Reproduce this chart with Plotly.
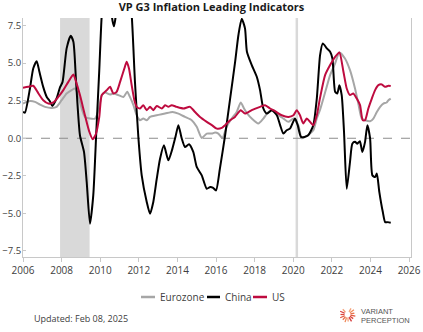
import math
import plotly.graph_objects as go

# --- China leading indicator (decimal year, value) ---
china_t = [2006.00, 2006.10, 2006.36, 2006.53, 2006.71, 2006.85, 2007.05, 2007.23, 2007.40, 2007.52,
           2007.74, 2007.92, 2008.05, 2008.26, 2008.47, 2008.61, 2008.75, 2008.95, 2009.16, 2009.30,
           2009.47, 2009.64, 2009.80, 2009.95, 2010.08, 2010.25, 2010.50, 2010.64, 2010.71, 2010.78,
           2010.95, 2011.20, 2011.50, 2011.63, 2011.80, 2011.98, 2012.15, 2012.41, 2012.58, 2012.75,
           2012.93, 2013.10, 2013.30, 2013.53, 2013.74, 2013.90, 2014.05, 2014.22, 2014.39, 2014.60,
           2014.82, 2015.00, 2015.26, 2015.52, 2015.70, 2015.85, 2016.00, 2016.20, 2016.47, 2016.73,
           2016.99, 2017.16, 2017.33, 2017.50, 2017.60, 2017.85, 2018.11, 2018.28, 2018.45, 2018.63,
           2018.89, 2019.15, 2019.32, 2019.49, 2019.66, 2019.83, 2020.09, 2020.23, 2020.40, 2020.58,
           2020.78, 2021.04, 2021.22, 2021.39, 2021.53, 2021.74, 2021.91, 2022.03, 2022.17, 2022.28,
           2022.39, 2022.51, 2022.63, 2022.77, 2022.94, 2023.06, 2023.20, 2023.32, 2023.45, 2023.58,
           2023.72, 2023.84, 2023.98, 2024.10, 2024.24, 2024.33, 2024.46, 2024.64, 2024.76, 2024.90,
           2025.05]
china_v = [1.75, 1.70, 3.31, 4.64, 5.13, 4.42, 3.40, 2.75, 2.45, 2.15,
           2.65, 3.40, 3.75, 5.98, 6.82, 6.42, 3.75, 0.20, -0.91, -2.91,
           -5.69, -3.80, 0.50, 4.50, 8.20, 10.5, 9.00, 7.80, 7.45, 7.90,
           10.0, 11.0, 9.50, 8.20, 3.75, 0.00, -2.47, -4.24, -5.02, -4.24,
           -2.69, -1.36, -0.47, -1.47, -0.69, 0.10, 0.87, 0.00, -0.58, -0.40,
           -0.91, -1.91, -2.47, -3.36, -3.24, -3.30, -3.47, -2.02, 0.20, 2.64,
           5.09, 6.87, 7.95, 7.31, 5.76, 4.87, 4.09, 3.20, 1.98, 1.64,
           1.87, 1.53, 0.87, 0.31, 0.53, 0.64, 1.31, 0.87, 0.09, 0.09,
           0.20, 0.87, 2.64, 5.53, 6.31, 5.98, 5.76, 5.31, 3.09, 2.98,
           3.53, 2.87, 0.42, -3.36, -1.58, -0.36, -0.24, -0.36, -0.20, -0.91,
           -0.24, 0.87, 0.00, -2.47, -2.58, -2.35, -3.58, -4.91, -5.58, -5.58,
           -5.62]

# --- Eurozone leading indicator ---
ez_t = [2006.00, 2006.36, 2006.62, 2006.88, 2007.14, 2007.49, 2007.74, 2008.00, 2008.26, 2008.52,
        2008.69, 2008.86, 2009.04, 2009.21, 2009.47, 2009.73, 2009.92, 2010.08, 2010.25, 2010.51,
        2010.68, 2010.94, 2011.20, 2011.40, 2011.54, 2011.72, 2011.89, 2012.06, 2012.23, 2012.41,
        2012.58, 2012.93, 2013.36, 2013.75, 2014.05, 2014.39, 2014.74, 2015.00, 2015.26, 2015.52,
        2015.78, 2015.95, 2016.12, 2016.33, 2016.55, 2016.81, 2017.07, 2017.28, 2017.45, 2017.62,
        2017.85, 2018.19, 2018.45, 2018.71, 2018.97, 2019.23, 2019.49, 2019.75, 2020.01, 2020.26,
        2020.44, 2020.61, 2020.87, 2021.04, 2021.22, 2021.39, 2021.66, 2021.91, 2022.17, 2022.39,
        2022.68, 2022.94, 2023.20, 2023.37, 2023.55, 2023.72, 2023.98, 2024.15, 2024.33, 2024.50,
        2024.67, 2024.84, 2024.93, 2025.05]
ez_v = [2.31, 2.47, 2.42, 2.24, 2.09, 2.02, 2.09, 2.53, 2.98, 3.20,
        3.31, 2.87, 1.98, 1.42, 1.31, 1.31, 1.90, 2.87, 3.04, 2.91,
        2.98, 2.87, 2.75, 3.09, 2.75, 2.20, 1.53, 1.20, 1.31, 1.20,
        1.42, 1.53, 1.64, 1.75, 1.64, 1.42, 1.20, 0.76, 0.02, 0.31,
        0.31, 0.38, 0.31, 0.00, 0.76, 1.31, 1.75, 2.38, 1.98, 1.64,
        1.31, 0.98, 1.31, 1.75, 1.87, 1.53, 1.31, 1.09, 1.31, 0.87,
        0.00, 0.09, 0.31, 0.53, 1.31, 1.90, 3.09, 4.20, 4.98, 5.71,
        5.31, 4.53, 3.31, 2.31, 1.31, 1.20, 1.13, 1.31, 1.75, 2.09,
        2.31, 2.38, 2.53, 2.64]

# --- US leading indicator ---
us_t = [2006.00, 2006.27, 2006.53, 2006.80, 2007.05, 2007.31, 2007.57, 2007.83, 2008.09, 2008.35,
        2008.61, 2008.75, 2008.95, 2009.21, 2009.44, 2009.61, 2009.78, 2009.95, 2010.08, 2010.34,
        2010.51, 2010.68, 2010.85, 2011.03, 2011.25, 2011.37, 2011.49, 2011.63, 2011.77, 2011.89,
        2012.06, 2012.23, 2012.41, 2012.58, 2012.75, 2012.93, 2013.19, 2013.36, 2013.53, 2013.70,
        2013.96, 2014.31, 2014.65, 2014.91, 2015.17, 2015.52, 2015.78, 2016.04, 2016.30, 2016.47,
        2016.73, 2016.98, 2017.28, 2017.50, 2017.85, 2018.28, 2018.54, 2018.80, 2019.06, 2019.40,
        2019.75, 2020.01, 2020.18, 2020.35, 2020.52, 2020.70, 2020.87, 2021.04, 2021.22, 2021.39,
        2021.65, 2021.91, 2022.17, 2022.39, 2022.60, 2022.77, 2022.94, 2023.11, 2023.29, 2023.46,
        2023.60, 2023.72, 2023.89, 2024.07, 2024.24, 2024.41, 2024.59, 2024.76, 2024.93, 2025.05]
us_v = [3.36, 3.42, 3.49, 2.98, 2.53, 2.31, 2.38, 2.75, 3.20, 3.75,
        4.24, 3.75, 2.87, 1.53, 0.42, -0.07, 0.30, 1.40, 2.87, 3.20,
        3.42, 2.98, 3.09, 3.75, 4.64, 5.09, 4.64, 3.53, 2.53, 2.09,
        1.98, 2.20, 1.87, 2.09, 1.87, 2.15, 1.98, 2.20, 2.09, 2.20,
        2.09, 1.98, 2.09, 1.75, 1.42, 1.09, 0.87, 0.64, 0.69, 0.87,
        1.20, 1.42, 1.87, 1.64, 1.87, 2.09, 2.20, 1.98, 1.80, 1.53,
        1.42, 1.53, 1.87, 1.53, 0.98, 1.31, 1.09, 0.87, 1.53, 2.70,
        4.20, 4.87, 5.42, 5.71, 4.42, 3.31, 2.87, 2.98, 2.64, 2.20,
        1.20, 1.20, 1.98, 2.64, 3.20, 3.53, 3.58, 3.42, 3.49, 3.47]

# --- Shaded periods (recessions) ---
shade_starts = [2007.92, 2020.12]
shade_ends = [2009.45, 2020.25]

series_names = ["Eurozone", "China", "US"]
series_colors = ["#a6a6a6", "#000000", "#be0b3f"]

W, H = 423, 332
ML, MR, MT, MB = 23, 12, 18, 75
X_RANGE = [2006, 2026.1]
Y_RANGE = [-7.9, 8.0]
FONT = "Open Sans"
TEXT_GREY = "#404040"


def px_to_paper(px, py):
    """Convert page pixel coordinates to paper coordinates of the plot area."""
    pw = W - ML - MR
    ph = H - MT - MB
    return (px - ML) / pw, (H - MB - py) / ph


fig = go.Figure()

for t, v, name, color in zip([ez_t, china_t, us_t], [ez_v, china_v, us_v],
                             series_names, series_colors):
    fig.add_trace(go.Scatter(
        x=t, y=v, mode="lines", name=name,
        line=dict(color=color, width=2, shape="spline", smoothing=0.6),
        showlegend=False, hoverinfo="skip",
    ))

# recession bands
for s, e in zip(shade_starts, shade_ends):
    fig.add_vrect(x0=s, x1=e, fillcolor="#d9d9d9", opacity=1, line_width=0, layer="below")

# dashed zero line
fig.add_hline(y=0, line=dict(color="#8c8c8c", width=1, dash="dash"), layer="below")

# legend drawn below the plot
legend_items = [(141, 155, 158, "Eurozone"), (207, 220, 223, "China"), (253, 267, 270, "US")]
for (x0, x1, xt, label), color in zip(legend_items, series_colors):
    p0 = px_to_paper(x0, 297)
    p1 = px_to_paper(x1, 297)
    fig.add_shape(type="line", xref="paper", yref="paper", x0=p0[0], x1=p1[0],
                  y0=p0[1], y1=p1[1], line=dict(color=color, width=2.5))
    pt = px_to_paper(xt, 297)
    fig.add_annotation(xref="paper", yref="paper", x=pt[0], y=pt[1], text=label,
                       showarrow=False, xanchor="left", yanchor="middle",
                       font=dict(family=FONT, size=10, color=TEXT_GREY))

# updated note
pu = px_to_paper(32, 318)
fig.add_annotation(xref="paper", yref="paper", x=pu[0], y=pu[1],
                   text="Updated: Feb 08, 2025", showarrow=False,
                   xanchor="left", yanchor="middle",
                   font=dict(family=FONT, size=9, color=TEXT_GREY))

# logo: sunburst mark + wordmark
cx, cy = 347.5, 314.5
ray_colors = ["#f4a27a", "#ef8a5c", "#e8704a", "#e2583f", "#dc4438", "#d63a3a"]
for i in range(13):
    ang = math.radians(-60 + i * 24)
    r0, r1 = 3.0, 7.0 + (i % 2) * 1.0
    a = px_to_paper(cx + r0 * math.cos(ang), cy + r0 * math.sin(ang))
    b = px_to_paper(cx + r1 * math.cos(ang), cy + r1 * math.sin(ang))
    fig.add_shape(type="line", xref="paper", yref="paper", x0=a[0], y0=a[1],
                  x1=b[0], y1=b[1],
                  line=dict(color=ray_colors[i % len(ray_colors)], width=1.3))
for txt, py in [("VARIANT", 311), ("PERCEPTION", 320)]:
    p = px_to_paper(358.5, py)
    fig.add_annotation(xref="paper", yref="paper", x=p[0], y=p[1], text=txt,
                       showarrow=False, xanchor="left", yanchor="middle",
                       font=dict(family="Liberation Sans", size=7.5, color="#555555"))

fig.update_layout(
    width=W, height=H,
    margin=dict(l=ML, r=MR, t=MT, b=MB, pad=0, autoexpand=False),
    paper_bgcolor="white", plot_bgcolor="white",
    title=dict(text="<b>VP G3 Inflation Leading Indicators</b>", x=0.5, xanchor="center",
               y=1 - 7 / H, yanchor="middle",
               font=dict(family=FONT, size=11, color="#1a1a1a")),
    showlegend=False,
    xaxis=dict(range=X_RANGE, tickmode="linear", tick0=2006, dtick=2, automargin=False,
               showgrid=False, zeroline=False, showline=True, linecolor="#c8c8c8",
               linewidth=1, ticks="outside", ticklen=4, tickcolor="#c8c8c8",
               tickfont=dict(family=FONT, size=10, color=TEXT_GREY)),
    yaxis=dict(range=Y_RANGE, tickmode="linear", tick0=-7.5, dtick=2.5, tickformat=".1f",
               automargin=False,
               showgrid=False, zeroline=False, showline=True, mirror=True,
               linecolor="#c8c8c8", linewidth=1, ticks="inside", ticklen=3,
               tickcolor="#c8c8c8", ticklabelstandoff=-1,
               tickfont=dict(family=FONT, size=9.5, color=TEXT_GREY)),
)

fig.write_html("out.html")
